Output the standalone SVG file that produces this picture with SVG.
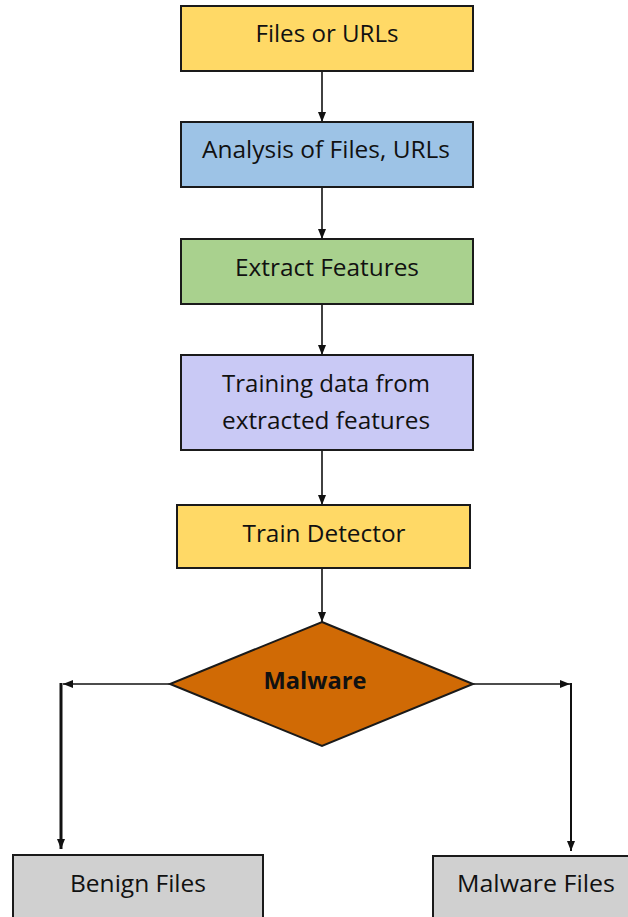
<svg xmlns="http://www.w3.org/2000/svg" width="628" height="917" viewBox="0 0 628 917">
<style>
.box{stroke:#1a1a1a;stroke-width:2}
.t{font-family:"Open Sans","Noto Sans","Liberation Sans",sans-serif;font-size:23.5px;fill:#111;text-anchor:middle}
.b{font-weight:bold}
.c{stroke:#111;stroke-width:1.6;fill:none}
</style>
<defs>
<marker id="ah" viewBox="0 0 10 8" refX="10" refY="4" markerWidth="10" markerHeight="8" markerUnits="userSpaceOnUse" orient="auto">
<path d="M0,0 L10,4 L0,8 Z" fill="#111"/>
</marker>
</defs>
<rect width="628" height="917" fill="#fff"/>
<g id="connectors">
<line class="c" x1="322" y1="71" x2="322" y2="122" marker-end="url(#ah)"/>
<line class="c" x1="322" y1="187" x2="322" y2="239" marker-end="url(#ah)"/>
<line class="c" x1="322" y1="304" x2="322" y2="355" marker-end="url(#ah)"/>
<line class="c" x1="322" y1="450" x2="322" y2="505" marker-end="url(#ah)"/>
<line class="c" x1="322" y1="568" x2="322" y2="622" marker-end="url(#ah)"/>
<line class="c" x1="170" y1="684" x2="63" y2="684" marker-end="url(#ah)"/>
<line class="c" x1="61" y1="683" x2="61" y2="849" style="stroke-width:3" marker-end="url(#ah)"/>
<line class="c" x1="473" y1="684" x2="570" y2="684" marker-end="url(#ah)"/>
<line class="c" x1="571" y1="683" x2="571" y2="851" style="stroke-width:2" marker-end="url(#ah)"/>
</g>
<g id="n1"><rect class="box" x="181" y="6" width="292" height="65" fill="#FFD966"/><text class="t" x="327" y="42" textLength="143" lengthAdjust="spacingAndGlyphs">Files or URLs</text></g>
<g id="n2"><rect class="box" x="181" y="122" width="292" height="65" fill="#9DC3E6"/><text class="t" x="326" y="158" textLength="248" lengthAdjust="spacingAndGlyphs">Analysis of Files, URLs</text></g>
<g id="n3"><rect class="box" x="181" y="239" width="292" height="65" fill="#A9D18E"/><text class="t" x="327" y="276" textLength="184" lengthAdjust="spacingAndGlyphs">Extract Features</text></g>
<g id="n4"><rect class="box" x="181" y="355" width="292" height="95" fill="#C9C9F5"/><text class="t" x="326" y="392" textLength="208" lengthAdjust="spacingAndGlyphs">Training data from</text><text class="t" x="326" y="429" textLength="208" lengthAdjust="spacingAndGlyphs">extracted features</text></g>
<g id="n5"><rect class="box" x="177" y="505" width="293" height="63" fill="#FFD966"/><text class="t" x="324" y="542" textLength="163" lengthAdjust="spacingAndGlyphs">Train Detector</text></g>
<g id="n6"><polygon class="box" points="322,622 473,684 322,746 170,684" fill="#D06A05"/><text class="t b" x="315" y="689" textLength="103" lengthAdjust="spacingAndGlyphs">Malware</text></g>
<g id="n7"><rect class="box" x="13" y="855" width="250" height="70" fill="#D0D0D0"/><text class="t" x="138" y="892" textLength="136" lengthAdjust="spacingAndGlyphs">Benign Files</text></g>
<g id="n8"><rect class="box" x="433" y="856" width="205" height="70" fill="#D0D0D0"/><text class="t" x="536" y="892" textLength="158" lengthAdjust="spacingAndGlyphs">Malware Files</text></g>
</svg>
